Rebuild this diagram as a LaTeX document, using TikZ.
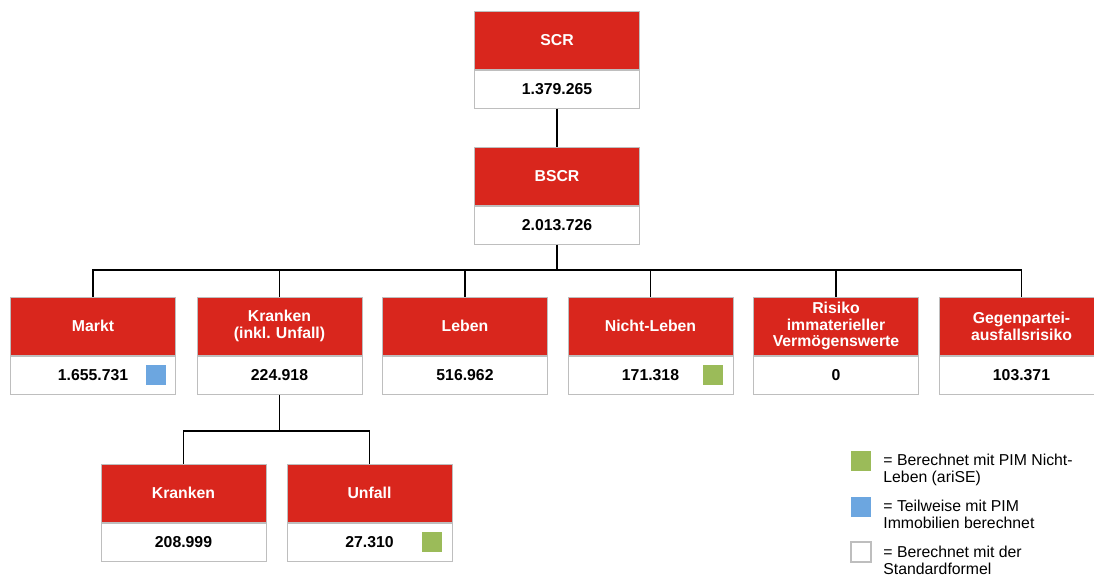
\documentclass[tikz,border=0pt]{standalone}
\usepackage{fontspec}
\setmainfont{Liberation Sans}
\usetikzlibrary{positioning}
\frenchspacing
\definecolor{boxred}{RGB}{217,38,29}
\definecolor{pimgreen}{RGB}{155,187,89}
\definecolor{pimblue}{RGB}{108,166,224}
\definecolor{boxgray}{RGB}{190,190,190}
\tikzset{
  head/.style={draw=boxgray, line width=0.5pt, fill=boxred, text=white,
    font=\fontsize{7.9}{8.35}\selectfont\bfseries, minimum width=82.5pt,
    minimum height=29pt, text width=80pt, align=center, inner sep=0pt},
  val/.style={draw=boxgray, line width=0.5pt, fill=white,
    font=\fontsize{7.9}{8.35}\selectfont\bfseries, minimum width=82.5pt,
    minimum height=19pt, inner sep=0pt, below=0pt of #1},
  pimsq/.style={fill=#1, minimum size=10pt, inner sep=0pt},
  legtext/.style={anchor=north west, inner sep=0pt, align=left,
    font=\fontsize{7.9}{8.35}\selectfont},
  conn/.style={line width=0.75pt}
}
\begin{document}
\begin{tikzpicture}[x=0.5pt, y=-0.5pt]
  \useasboundingbox (0,0) rectangle (1094,575);
  \clip (0,0) rectangle (1094,575);

  \node[head] (scr) at (557,40) {SCR};
  \node[val=scr] (scrv) {1.379.265};
  \node[head] (bscr) at (557,176) {BSCR};
  \node[val=bscr] (bscrv) {2.013.726};

  \node[head] (markt) at (93,326) {Markt};
  \node[val=markt] (marktv) {1.655.731};
  \node[head] (kranken) at (279.5,326) {Kranken\\(inkl. Unfall)};
  \node[val=kranken] (krankenv) {224.918};
  \node[head] (leben) at (465,326) {Leben};
  \node[val=leben] (lebenv) {516.962};
  \node[head] (nleben) at (650.5,326) {Nicht-Leben};
  \node[val=nleben] (nlebenv) {171.318};
  \node[head] (risiko) at (836,326) {Risiko\\immaterieller\\Vermögenswerte};
  \node[val=risiko] (risikov) {0};
  \node[head] (gegen) at (1021.5,326) {Gegenpartei-\\ausfallsrisiko};
  \node[val=gegen] (gegenv) {103.371};

  \node[head] (kr) at (183.5,493) {Kranken};
  \node[val=kr] (krv) {208.999};
  \node[head] (unfall) at (369.5,493) {Unfall};
  \node[val=unfall] (unfallv) {27.310};

  \node[pimsq=pimblue, left=5pt of marktv.east, anchor=east] (marktsq) {};
  \node[pimsq=pimgreen, left=5pt of nlebenv.east, anchor=east] (nlebensq) {};
  \node[pimsq=pimgreen, left=5pt of unfallv.east, anchor=east] (unfallsq) {};

  \coordinate (bus) at (0,270);
  \coordinate (sub) at (0,431);
  \draw[conn] (scrv.south) -- (bscr.north);
  \draw[conn] (bscrv.south) -- (bscrv.south |- bus);
  \draw[conn] (markt.north) -- (markt.north |- bus) -- (gegen.north |- bus) -- (gegen.north);
  \foreach \n in {kranken,leben,nleben,risiko}
    \draw[conn] (\n.north) -- (\n.north |- bus);
  \draw[conn] (krankenv.south) -- (krankenv.south |- sub);
  \draw[conn] (kr.north) -- (kr.north |- sub) -- (unfall.north |- sub) -- (unfall.north);

  \node[pimsq=pimgreen] (leggreen) at (861,461) {};
  \node[pimsq=pimblue] (legblue) at (861,506.5) {};
  \node[pimsq=white, draw=boxgray, line width=0.6pt] (legwhite) at (861,552) {};
  \node[legtext] (leggreent) at (883,454) {= Berechnet mit PIM Nicht-\\Leben (ariSE)};
  \node[legtext] (legbluet) at (883,500) {= Teilweise mit PIM\\Immobilien berechnet};
  \node[legtext] (legwhitet) at (883,546) {= Berechnet mit der\\Standardformel};
\end{tikzpicture}
\end{document}
